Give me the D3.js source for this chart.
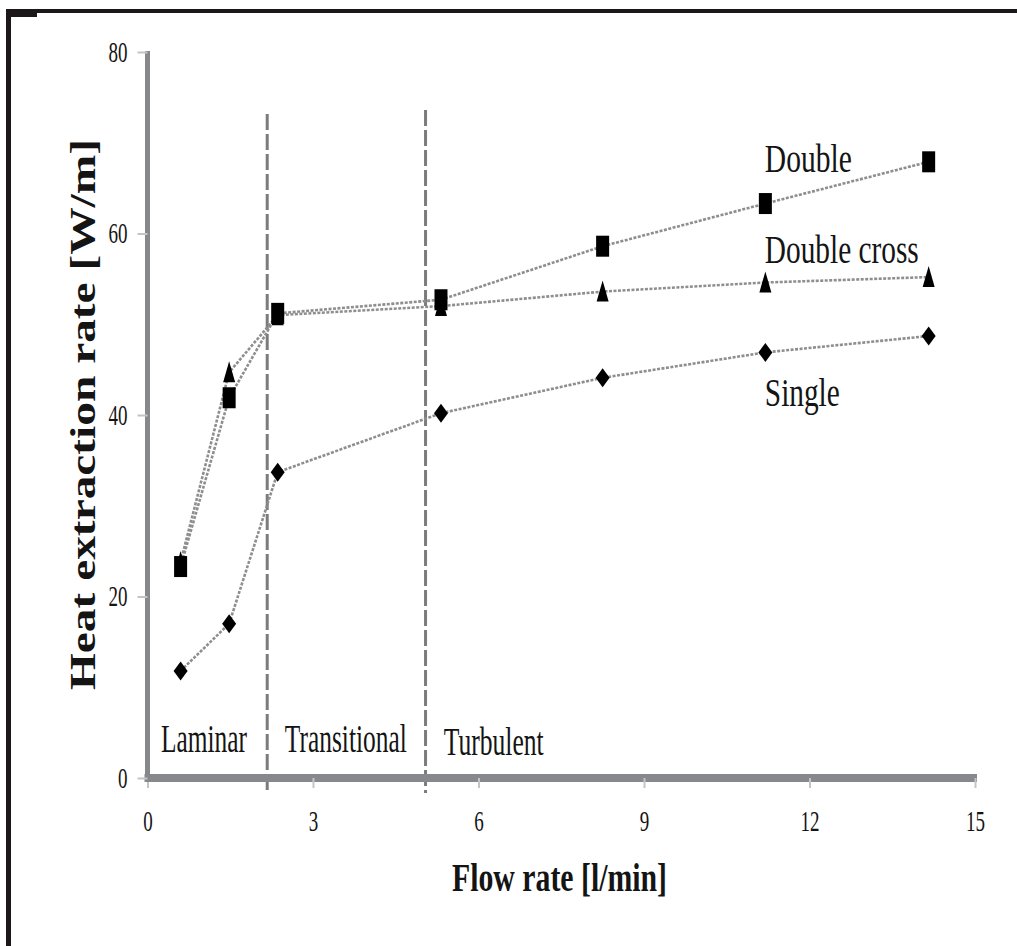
<!DOCTYPE html>
<html>
<head>
<meta charset="utf-8">
<script src="https://cdn.jsdelivr.net/npm/d3@7"></script>
<style>
  body { margin: 0; background: #fff; }
  text { font-family: "Liberation Serif", "Times New Roman", serif; fill: #141414; }
</style>
</head>
<body>
<div id="app"></div>
<script>
// values
const flowRate = [0.6, 1.48, 2.36, 5.32, 8.25, 11.2, 14.16];
const doubleRate = [23.3, 41.9, 51.2, 52.7, 58.6, 63.3, 67.9];
const doubleCrossRate = [23.8, 44.7, 51.0, 52.0, 53.6, 54.6, 55.2];
const singleRate = [11.8, 17.0, 33.7, 40.2, 44.1, 46.9, 48.7];
const regimeBounds = [2.17, 5.04];
const regimeNames = ["Laminar", "Transitional", "Turbulent"];
const seriesNames = ["Double", "Double cross", "Single"];
const xTicks = [0, 3, 6, 9, 12, 15];
const yTicks = [0, 20, 40, 60, 80];

var w = 1017, h = 946;
const svg = d3.select("#app").append("svg")
  .attr("width", w).attr("height", h)
  .style("display", "block");

// black scan frame
svg.append("rect").attr("x", 6).attr("y", 9).attr("width", w - 6).attr("height", 4).attr("fill", "#1c181a");
svg.append("rect").attr("x", 6).attr("y", 9).attr("width", 5).attr("height", h - 9).attr("fill", "#1c181a");
svg.append("rect").attr("x", 6).attr("y", 9).attr("width", 31).attr("height", 8).attr("fill", "#1c181a");

const xScale = d3.scaleLinear().domain([0, 15]).range([147.5, 975]);
const yScale = d3.scaleLinear().domain([0, 80]).range([778, 52]);

// regime boundaries
svg.selectAll(".bound")
  .data(regimeBounds)
  .enter().append("line")
  .attr("class", "bound")
  .attr("x1", d => xScale(d)).attr("x2", d => xScale(d))
  .attr("y1", (d, i) => i == 0 ? 114 : 110)
  .attr("y2", 793)
  .attr("stroke", "#7c7c7c")
  .attr("stroke-width", 3)
  .attr("stroke-dasharray", "16,4");

// axes
const xAxis = d3.axisBottom(xScale).tickValues(xTicks).tickSize(10).tickSizeOuter(0).tickPadding(22);
const yAxis = d3.axisLeft(yScale).tickValues(yTicks).tickSize(10).tickSizeOuter(0).tickPadding(10);

const gx = svg.append("g").attr("transform", "translate(0," + yScale(0) + ")").call(xAxis);
const gy = svg.append("g").attr("transform", "translate(" + xScale(0) + ",0)").call(yAxis);

gx.select(".domain").attr("stroke", "#86888b").attr("stroke-width", 8)
  .attr("d", "M" + (xScale(0) - 3) + ",0H" + (xScale(15) + 2));
gy.select(".domain").attr("stroke", "#86888b").attr("stroke-width", 5)
  .attr("d", "M0," + (yScale(0) + 4) + "V" + (yScale(80) - 1));
gx.selectAll(".tick line").attr("stroke", "#c4c4c4").attr("stroke-width", 2);
gy.selectAll(".tick line").attr("stroke", "#c4c4c4").attr("stroke-width", 2);
[gx, gy].forEach(g => g.selectAll(".tick text")
  .style("font-family", "'Liberation Serif', serif")
  .attr("font-size", 29)
  .attr("fill", "#141414")
  .attr("textLength", d => String(d).length * 9.5)
  .attr("lengthAdjust", "spacingAndGlyphs"));

// axis titles
svg.append("text")
  .attr("transform", "translate(95," + (139 + 690) / 2 + ") rotate(-90)")
  .attr("text-anchor", "middle")
  .attr("font-size", 35).attr("font-weight", "bold")
  .attr("textLength", 551).attr("lengthAdjust", "spacingAndGlyphs")
  .text("Heat extraction rate [W/m]");

svg.append("text")
  .attr("x", 559.5).attr("y", 891)
  .attr("text-anchor", "middle")
  .attr("font-size", 40).attr("font-weight", "bold")
  .attr("textLength", 215).attr("lengthAdjust", "spacingAndGlyphs")
  .text("Flow rate [l/min]");

// series lines
const series = [
  {name: seriesNames[0], values: doubleRate},
  {name: seriesNames[1], values: doubleCrossRate},
  {name: seriesNames[2], values: singleRate}
];
const line = d3.line().x((d, i) => xScale(flowRate[i])).y(d => yScale(d));

svg.selectAll(".series")
  .data(series)
  .enter().append("path")
  .attr("class", "series")
  .attr("d", d => line(d.values))
  .attr("fill", "none")
  .attr("stroke", "#8e8e8e")
  .attr("stroke-width", 2.6)
  .attr("stroke-dasharray", "3,1.5");

// markers: triangles under squares, then diamonds
svg.selectAll(".tri")
  .data(doubleCrossRate)
  .enter().append("path")
  .attr("class", "tri")
  .attr("d", (d, i) => {
    const cx = xScale(flowRate[i]), cy = yScale(d);
    return "M" + cx + "," + (cy - 11) + "L" + (cx + 6) + "," + (cy + 10) + "L" + (cx - 6) + "," + (cy + 10) + "Z";
  })
  .attr("fill", "#000");

svg.selectAll(".sq")
  .data(doubleRate)
  .enter().append("rect")
  .attr("class", "sq")
  .attr("x", (d, i) => xScale(flowRate[i]) - 6.5)
  .attr("y", d => yScale(d) - 10.5)
  .attr("width", 13).attr("height", 21)
  .attr("fill", "#000");

svg.selectAll(".dia")
  .data(singleRate)
  .enter().append("path")
  .attr("class", "dia")
  .attr("d", (d, i) => {
    const cx = xScale(flowRate[i]), cy = yScale(d);
    return "M" + cx + "," + (cy - 9.5) + "L" + (cx + 7) + "," + cy + "L" + cx + "," + (cy + 9.5) + "L" + (cx - 7) + "," + cy + "Z";
  })
  .attr("fill", "#000");

// text annotations: [x value, y value of baseline, length in px]
const seriesLabelPos = [[11.19, 66.8, 87], [11.19, 56.7, 154], [11.19, 41.0, 75]];
const regimeLabelPos = [[0.245, 2.9, 86], [2.49, 2.9, 122], [5.37, 2.55, 100]];

// squeeze a label horizontally to the width it has in the picture
function squeeze(sel, pos) {
  sel.each(function(d, i) {
    const t = d3.select(this);
    const natural = this.getComputedTextLength();
    const s = pos[i][2] / natural;
    t.attr("transform", "translate(" + xScale(pos[i][0]) + "," + yScale(pos[i][1]) + ") scale(" + s + ",1)");
  });
}

svg.selectAll(".slabel")
  .data(seriesNames)
  .enter().append("text")
  .attr("class", "slabel")
  .attr("font-size", 40)
  .text(d => d)
  .call(squeeze, seriesLabelPos);

svg.selectAll(".rlabel")
  .data(regimeNames)
  .enter().append("text")
  .attr("class", "rlabel")
  .attr("font-size", 40)
  .text(d => d)
  .call(squeeze, regimeLabelPos);
</script>
</body>
</html>
